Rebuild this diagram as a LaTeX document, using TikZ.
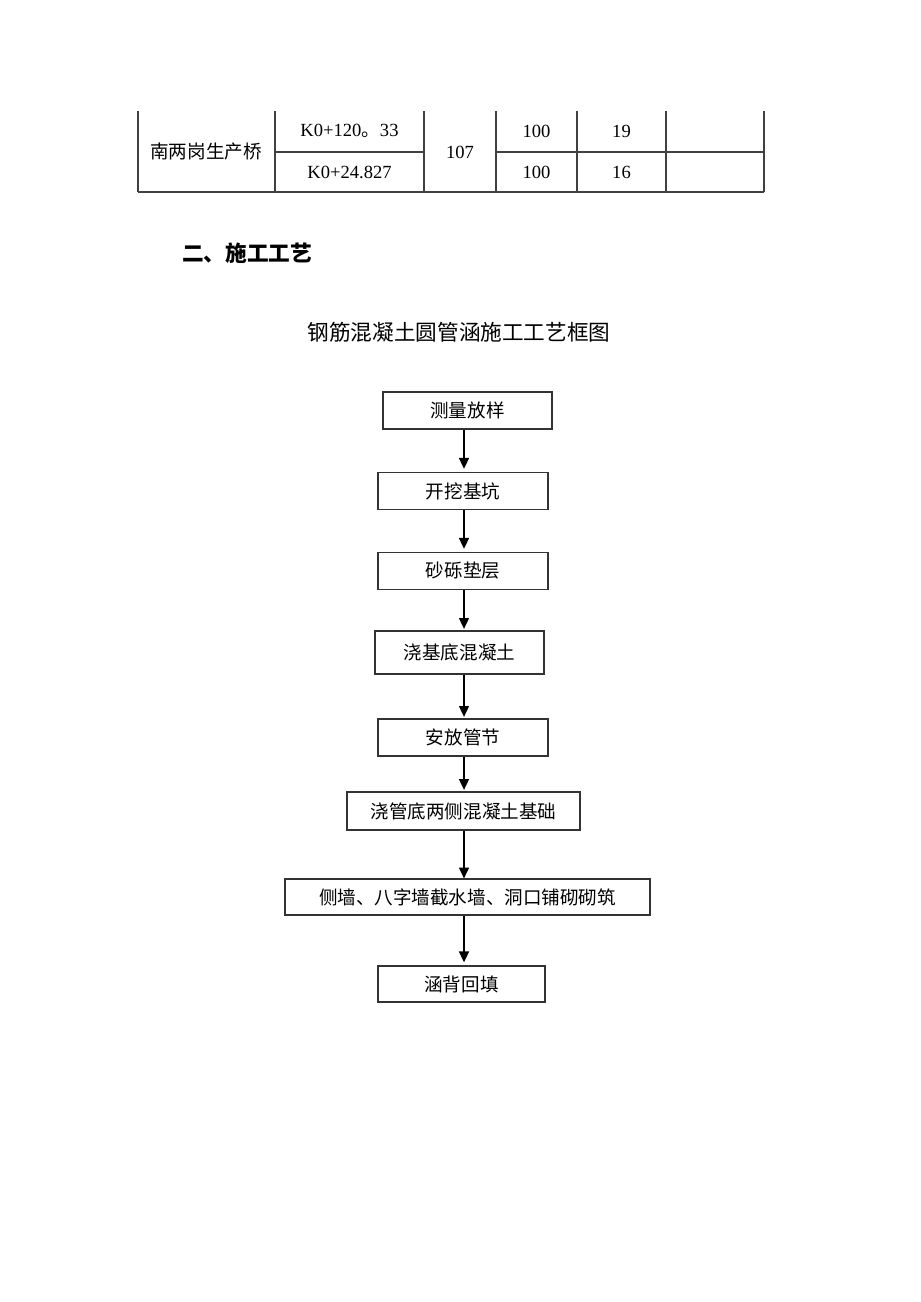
\documentclass[tikz,border=0pt]{standalone}
\usepackage{fontspec}
\setmainfont{Liberation Serif}
\newfontfamily\cjk{Noto Sans CJK SC}
\usetikzlibrary{arrows.meta}
\def\pxu{0.6468pt}
\begin{document}
\begin{tikzpicture}[x=0.6468pt,y=-0.6468pt,
  tline/.style={draw=black!75,line width=0.7pt},
  stepbox/.style={draw=black!80,line width=0.8pt,inner sep=0pt,
    font=\cjk\fontsize{12pt}{14pt}\selectfont},
  cell/.style={inner sep=0pt,font=\fontsize{12pt}{14pt}\selectfont},
  cjkcell/.style={inner sep=0pt,font=\cjk\fontsize{12pt}{14pt}\selectfont},
  arr/.style={-{Triangle[width=6.5pt,length=7pt]},line width=0.8pt,draw=black}]
\useasboundingbox (0,0) rectangle (920,1302);
% table
\foreach \xx in {138,275,424,496,577,666,764}{\draw[tline] (\xx,111) -- (\xx,192);}
\draw[tline] (275,152) -- (424,152);
\draw[tline] (496,152) -- (764,152);
\draw[tline] (138,192) -- (764,192);
\node[cjkcell] (t1) at (206,152) {南两岗生产桥};
\node[cell] (t2) at (349.5,131) {K0+120{\cjk 。}33};
\node[cell] (t3) at (349.5,172) {K0+24.827};
\node[cell] (t4) at (460,152) {107};
\node[cell] (t5) at (536.5,131) {100};
\node[cell] (t6) at (536.5,172) {100};
\node[cell] (t7) at (621.5,131) {19};
\node[cell] (t8) at (621.5,172) {16};
% headings
\node[anchor=west,inner sep=0pt,font=\cjk\bfseries\fontsize{14pt}{16pt}\selectfont] (h) at (182,253) {二、施工工艺};
\node[inner sep=0pt,font=\cjk\fontsize{14pt}{16pt}\selectfont] (title) at (459,332) {钢筋混凝土圆管涵施工工艺框图};
% flowchart
\node[stepbox,minimum width=169*\pxu,minimum height=37*\pxu] (b1) at (467.5,410.5) {测量放样};
\node[stepbox,minimum width=170*\pxu,minimum height=37*\pxu] (b2) at (463,491) {开挖基坑};
\node[stepbox,minimum width=170*\pxu,minimum height=37*\pxu] (b3) at (463,571) {砂砾垫层};
\node[stepbox,minimum width=169*\pxu,minimum height=43*\pxu] (b4) at (459.5,652.5) {浇基底混凝土};
\node[stepbox,minimum width=170*\pxu,minimum height=37*\pxu] (b5) at (463,737.5) {安放管节};
\node[stepbox,minimum width=233*\pxu,minimum height=38*\pxu] (b6) at (463.5,811) {浇管底两侧混凝土基础};
\node[stepbox,minimum width=365*\pxu,minimum height=36*\pxu] (b7) at (467.5,897) {侧墙、八字墙截水墙、洞口铺砌砌筑};
\node[stepbox,minimum width=167*\pxu,minimum height=36*\pxu] (b8) at (461.5,984) {涵背回填};
\coordinate (ax) at (464,0);
\draw[arr] (b1.south -| ax) -- ([yshift=2pt]b2.north -| ax);
\draw[arr] (b2.south -| ax) -- ([yshift=2pt]b3.north -| ax);
\draw[arr] (b3.south -| ax) -- ([yshift=1pt]b4.north -| ax);
\draw[arr] (b4.south -| ax) -- ([yshift=1pt]b5.north -| ax);
\draw[arr] (b5.south -| ax) -- ([yshift=1pt]b6.north -| ax);
\draw[arr] (b6.south -| ax) -- (b7.north -| ax);
\draw[arr] (b7.south -| ax) -- ([yshift=2pt]b8.north -| ax);
\end{tikzpicture}
\end{document}
